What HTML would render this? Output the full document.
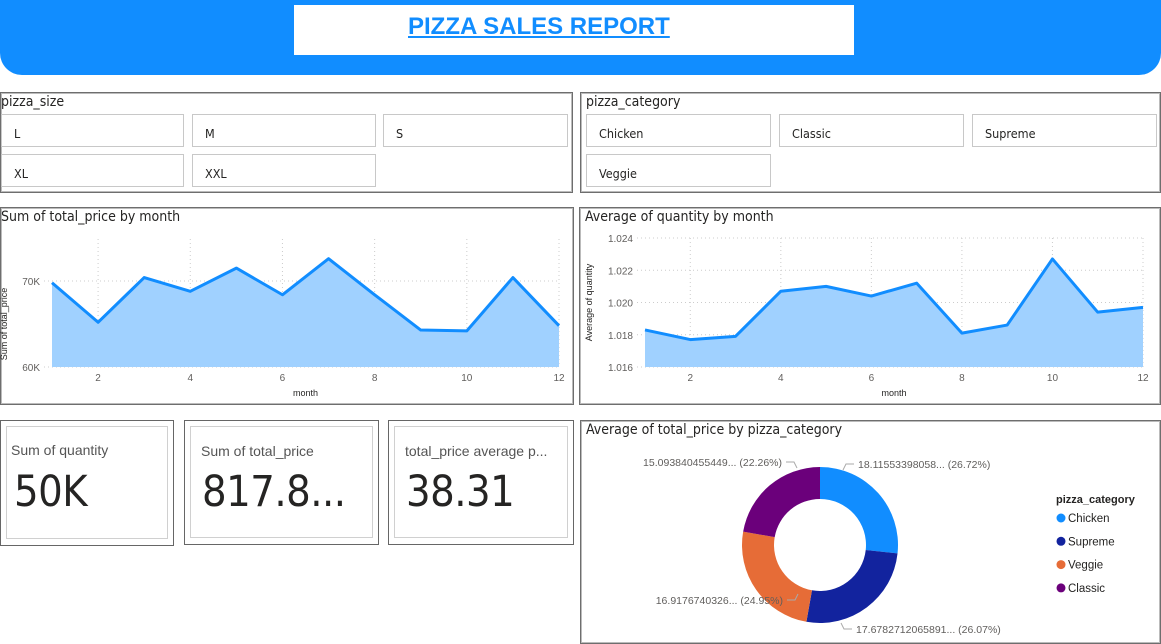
<!DOCTYPE html>
<html><head><meta charset="utf-8">
<style>
body{margin:0;width:1161px;height:644px;overflow:hidden;background:#fff;font-family:"DejaVu Sans Condensed","Liberation Sans",sans-serif;position:relative}
.abs{position:absolute;box-sizing:border-box}
.panel{border:1px solid #6e6e6e;box-shadow:0 0 0 1px #bbb inset}
.ptitle{position:absolute;left:0;top:1px;font-size:14px;color:#252423}
.btn{position:absolute;border:1px solid #c8c8c8;box-sizing:border-box;font-size:12.5px;color:#252423;padding-left:12px;padding-top:4px;line-height:30px;background:#fff}
.card{border:1px solid #666}
.inner{position:absolute;left:5px;top:5px;right:5px;bottom:6px;border:1px solid #d0d0d0}
.klabel{position:absolute;left:10px;top:21px;font-size:14px;color:#555;font-family:"Liberation Sans",sans-serif;white-space:nowrap}
.kval{position:absolute;left:10px;top:46px;font-size:43px;color:#252423;font-family:"DejaVu Sans Condensed","Liberation Sans",sans-serif;letter-spacing:-0.5px}
</style></head><body>
<div class="abs" style="left:0;top:0;width:1161px;height:75px;background:#118DFF;border-radius:0 0 22px 22px"></div>
<div class="abs" style="left:294px;top:5px;width:560px;height:50px;background:#fff">
 <span style="position:absolute;left:114px;top:8px;font:bold 24px 'Liberation Sans',sans-serif;color:#118DFF;text-decoration:underline;white-space:nowrap">PIZZA SALES REPORT</span>
</div>

<div class="abs panel" style="left:0;top:92px;width:573px;height:101px">
 <div class="ptitle">pizza_size</div>
 <div class="btn" style="left:0;top:21px;width:183px;height:33px">L</div>
 <div class="btn" style="left:191px;top:21px;width:184px;height:33px">M</div>
 <div class="btn" style="left:382px;top:21px;width:185px;height:33px">S</div>
 <div class="btn" style="left:0;top:61px;width:183px;height:33px">XL</div>
 <div class="btn" style="left:191px;top:61px;width:184px;height:33px">XXL</div>
</div>
<div class="abs panel" style="left:580px;top:92px;width:581px;height:101px">
 <div class="ptitle" style="left:5px">pizza_category</div>
 <div class="btn" style="left:5px;top:21px;width:185px;height:33px">Chicken</div>
 <div class="btn" style="left:198px;top:21px;width:185px;height:33px">Classic</div>
 <div class="btn" style="left:391px;top:21px;width:185px;height:33px">Supreme</div>
 <div class="btn" style="left:5px;top:61px;width:185px;height:33px">Veggie</div>
</div>

<div class="abs panel" style="left:0;top:207px;width:574px;height:198px">
 <div class="ptitle">Sum of total_price by month</div>
</div>
<div class="abs panel" style="left:579px;top:207px;width:582px;height:198px">
 <div class="ptitle" style="left:5px">Average of quantity by month</div>
</div>

<div class="abs card" style="left:0;top:420px;width:174px;height:126px"><div class="inner"></div>
 <div class="klabel">Sum of quantity</div><div class="kval" style="left:13px">50K</div></div>
<div class="abs card" style="left:184px;top:420px;width:195px;height:125px"><div class="inner"></div>
 <div class="klabel" style="left:16px;top:22px">Sum of total_price</div><div class="kval" style="left:17px">817.8...</div></div>
<div class="abs card" style="left:388px;top:420px;width:186px;height:125px"><div class="inner"></div>
 <div class="klabel" style="left:16px;top:22px">total_price average p...</div><div class="kval" style="left:17px">38.31</div></div>

<div class="abs panel" style="left:580px;top:420px;width:581px;height:224px">
 <div class="ptitle" style="left:5px">Average of total_price by pizza_category</div>
</div>

<svg id="svg" class="abs" style="left:0;top:0" width="1161" height="644" font-family="Liberation Sans, sans-serif"></svg>
<script>
const months=[1,2,3,4,5,6,7,8,9,10,11,12];
const priceK=[69.8,65.2,70.4,68.8,71.5,68.4,72.6,68.4,64.3,64.2,70.4,64.8];
const priceTicks=[60,70];
const priceTickLabels=["60K","70K"];
const avgQty=[1.0183,1.0177,1.0179,1.0207,1.0210,1.0204,1.0212,1.0181,1.0186,1.0227,1.0194,1.0197];
const qtyTicks=[1.016,1.018,1.020,1.022,1.024];
const xTicks=[2,4,6,8,10,12];
const cats=["Chicken","Supreme","Veggie","Classic"];
const catVals=[18.1155339805,17.6782712066,16.9176740326,15.0938404554];
const catLabels=["18.11553398058...","17.6782712065891...","16.9176740326...","15.093840455449..."];
const catColors=["#118DFF","#12239E","#E66C37","#6B007B"];

const svg=document.getElementById('svg');const NS='http://www.w3.org/2000/svg';
function mk(t,a,txt){const e=document.createElementNS(NS,t);for(const k in a)e.setAttribute(k,a[k]);if(txt!=null)e.textContent=txt;svg.appendChild(e);return e;}

function lineChart(o){
 const xs=v=>o.x0+(v-1)/(11)*(o.x1-o.x0);
 const ys=v=>o.y0-(v-o.ymin)/(o.ymax-o.ymin)*(o.y0-o.y1);
 o.yt.forEach((t,i)=>{const y=ys(t);
  const g=mk('line',{x1:o.x0-8,x2:o.x1,y1:y,y2:y,stroke:'#ccc','stroke-dasharray':'1,3'});
  
  const l=mk('text',{x:o.x0-12,y:y+4,'text-anchor':'end','font-size':10,fill:'#605e5c'},o.yl[i]);
  });
 xTicks.forEach(t=>{const x=xs(t);
  const g=mk('line',{x1:x,x2:x,y1:o.y1-(o.gridTop||0),y2:o.y0,stroke:'#ccc','stroke-dasharray':'1,3'});
  
  const l=mk('text',{x:x,y:o.y0+14,'text-anchor':'middle','font-size':10,fill:'#605e5c'},t);
  });
 let pts=o.vals.map((v,i)=>xs(months[i])+','+ys(v));
 const a=mk('polygon',{points:xs(1)+','+o.y0+' '+pts.join(' ')+' '+xs(12)+','+o.y0,fill:'#A0D1FF'});
 
 const p=mk('polyline',{points:pts.join(' '),fill:'none',stroke:'#118DFF','stroke-width':3,'stroke-linejoin':'round'});
 
 const xt=mk('text',{x:(o.x0+o.x1)/2,y:396,'text-anchor':'middle','font-size':9,fill:'#252423'},'month');
 
 const yt=mk('text',{x:0,y:0,'text-anchor':'middle','font-size':9,fill:'#252423',transform:`translate(${o.ytx},${(o.y0+o.y1)/2}) rotate(-90)`},o.ytitle);
 
}
lineChart({x0:52,x1:559,y0:367,y1:281,ymin:60,ymax:70,vals:priceK,yt:priceTicks,yl:priceTickLabels,ytitle:'Sum of total_price',ytx:7,gridTop:42});
lineChart({x0:645,x1:1143,y0:367,y1:238,ymin:1.016,ymax:1.024,vals:avgQty,yt:qtyTicks,yl:qtyTicks.map(v=>v.toFixed(3)),ytitle:'Average of quantity',ytx:592});

// donut
const cx=820,cy=545,R=78,r=46;
const tot=catVals.reduce((a,b)=>a+b,0);
let ang=0;
const labelPos=[[858,468,'start'],[856,633,'start'],[783,604,'end'],[782,466,'end']];
catVals.forEach((v,i)=>{
 const a0=ang,a1=ang+v/tot*2*Math.PI;ang=a1;
 const P=(rad,a)=>[cx+rad*Math.sin(a),cy-rad*Math.cos(a)];
 const [x0,y0]=P(R,a0),[x1,y1]=P(R,a1),[x2,y2]=P(r,a1),[x3,y3]=P(r,a0);
 const lg=(a1-a0)>Math.PI?1:0;
 const s=mk('path',{d:`M${x0},${y0}A${R},${R} 0 ${lg} 1 ${x1},${y1}L${x2},${y2}A${r},${r} 0 ${lg} 0 ${x3},${y3}Z`,fill:catColors[i]});
 
 const lp=labelPos[i];const right=lp[2]=='start';
 const lx=lp[0]+(right?-4:4),ly=lp[1]-4,kx=lx+(right?-8:8);
 const ex=kx+(right?-3:3),ey=ly+(ly<cy?6:-6);
 const ln=mk('polyline',{points:`${ex},${ey} ${kx},${ly} ${lx},${ly}`,fill:'none',stroke:'#aaa'});
 
 const t=mk('text',{x:lp[0],y:lp[1],'text-anchor':lp[2],'font-size':10.5,fill:'#605e5c'},catLabels[i]+' ('+(v/tot*100).toFixed(2)+'%)');
 
});
const lt=mk('text',{x:1056,y:503,'font-size':11,'font-weight':'bold',fill:'#252423'},'pizza_category');

cats.forEach((c,i)=>{const y=518+i*23.3;
 const d=mk('circle',{cx:1061,cy:y,r:4.5,fill:catColors[i]});
 
 const t=mk('text',{x:1068,y:y+4,'font-size':11.5,fill:'#252423'},c);
 });
</script>
</body></html>
